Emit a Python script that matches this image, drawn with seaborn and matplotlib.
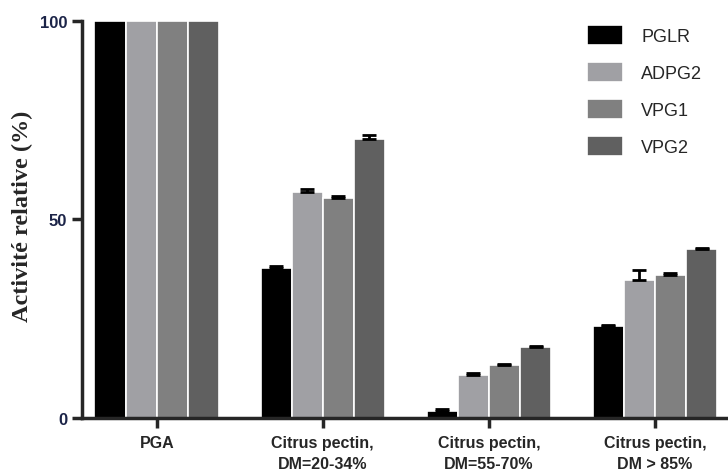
import numpy as np
import pandas as pd
import matplotlib
matplotlib.use("Agg")
import matplotlib.pyplot as plt
import seaborn as sns

# substrates on the x axis
substrates = ["PGA", "Citrus pectin,\nDM=20-34%", "Citrus pectin,\nDM=55-70%", "Citrus pectin,\nDM > 85%"]
enzymes = ["PGLR", "ADPG2", "VPG1", "VPG2"]

# relative activity (%), one list per enzyme
pglr = [100, 37.8, 1.8, 23.2]
adpg2 = [100, 56.8, 10.9, 34.8]
vpg1 = [100, 55.5, 13.3, 36.0]
vpg2 = [100, 70.3, 17.9, 42.6]

# upper error bars
pglr_err = [0, 0.5, 0.4, 0.3]
adpg2_err = [0, 0.8, 0.4, 2.4]
vpg1_err = [0, 0.3, 0.3, 0.4]
vpg2_err = [0, 1.0, 0.3, 0.3]

colors = ["#000000", "#a0a0a4", "#808080", "#606060"]

df = pd.DataFrame({
    "substrate": substrates * 4,
    "enzyme": np.repeat(enzymes, 4),
    "value": pglr + adpg2 + vpg1 + vpg2,
    "err": pglr_err + adpg2_err + vpg1_err + vpg2_err,
})

sns.set_style("ticks")
plt.rcParams["font.family"] = ["Liberation Sans", "DejaVu Sans"]

fig = plt.figure(figsize=(7.28, 4.77), dpi=100)
ax = fig.add_axes([0.1126, 0.1216, 0.8874, 0.8323])

sns.barplot(data=df, x="substrate", y="value", hue="enzyme", order=substrates,
            hue_order=enzymes, palette=colors, width=0.75, edgecolor="white",
            linewidth=1.2, errorbar=None, legend=True, ax=ax)

# error bars on top of each bar (upper side only)
bars = [p for p in ax.patches if p.get_height() > 0 or p.get_width() > 0][:16]
for bar, e in zip(bars, df["err"]):
    if e > 0:
        xc = bar.get_x() + bar.get_width() / 2
        h = bar.get_height()
        ax.errorbar(xc, h, yerr=[[0], [e]], fmt="none", ecolor="black",
                    elinewidth=2, capsize=5, capthick=2, zorder=5)

ax.set_ylim(0, 100)
ax.set_xlim(-0.45, 3.44)
ax.set_yticks([0, 50, 100])
ax.set_yticklabels(["0", "50", "100"], fontweight="bold", color="#1c2448", fontsize=12)
ax.set_xticks(range(4))
ax.set_xticklabels(substrates, fontweight="bold", fontsize=11.5, linespacing=1.55)
ax.set_xlabel("")
ax.set_ylabel("Activité relative (%)", family="Liberation Serif", fontweight="bold",
              fontsize=17.5)
ax.yaxis.set_label_coords(-0.075, 0.51)

for side in ["top", "right"]:
    ax.spines[side].set_visible(False)
for side in ["left", "bottom"]:
    ax.spines[side].set_linewidth(2.5)
ax.tick_params(axis="both", width=2.5, length=7)
ax.tick_params(axis="x", pad=5)

leg = ax.legend(frameon=False, loc="upper right", bbox_to_anchor=(0.985, 1.03),
                fontsize=13, handlelength=2.0, handleheight=1.3,
                labelspacing=0.95, handletextpad=1.0)

fig.savefig("out.png", dpi=100)
